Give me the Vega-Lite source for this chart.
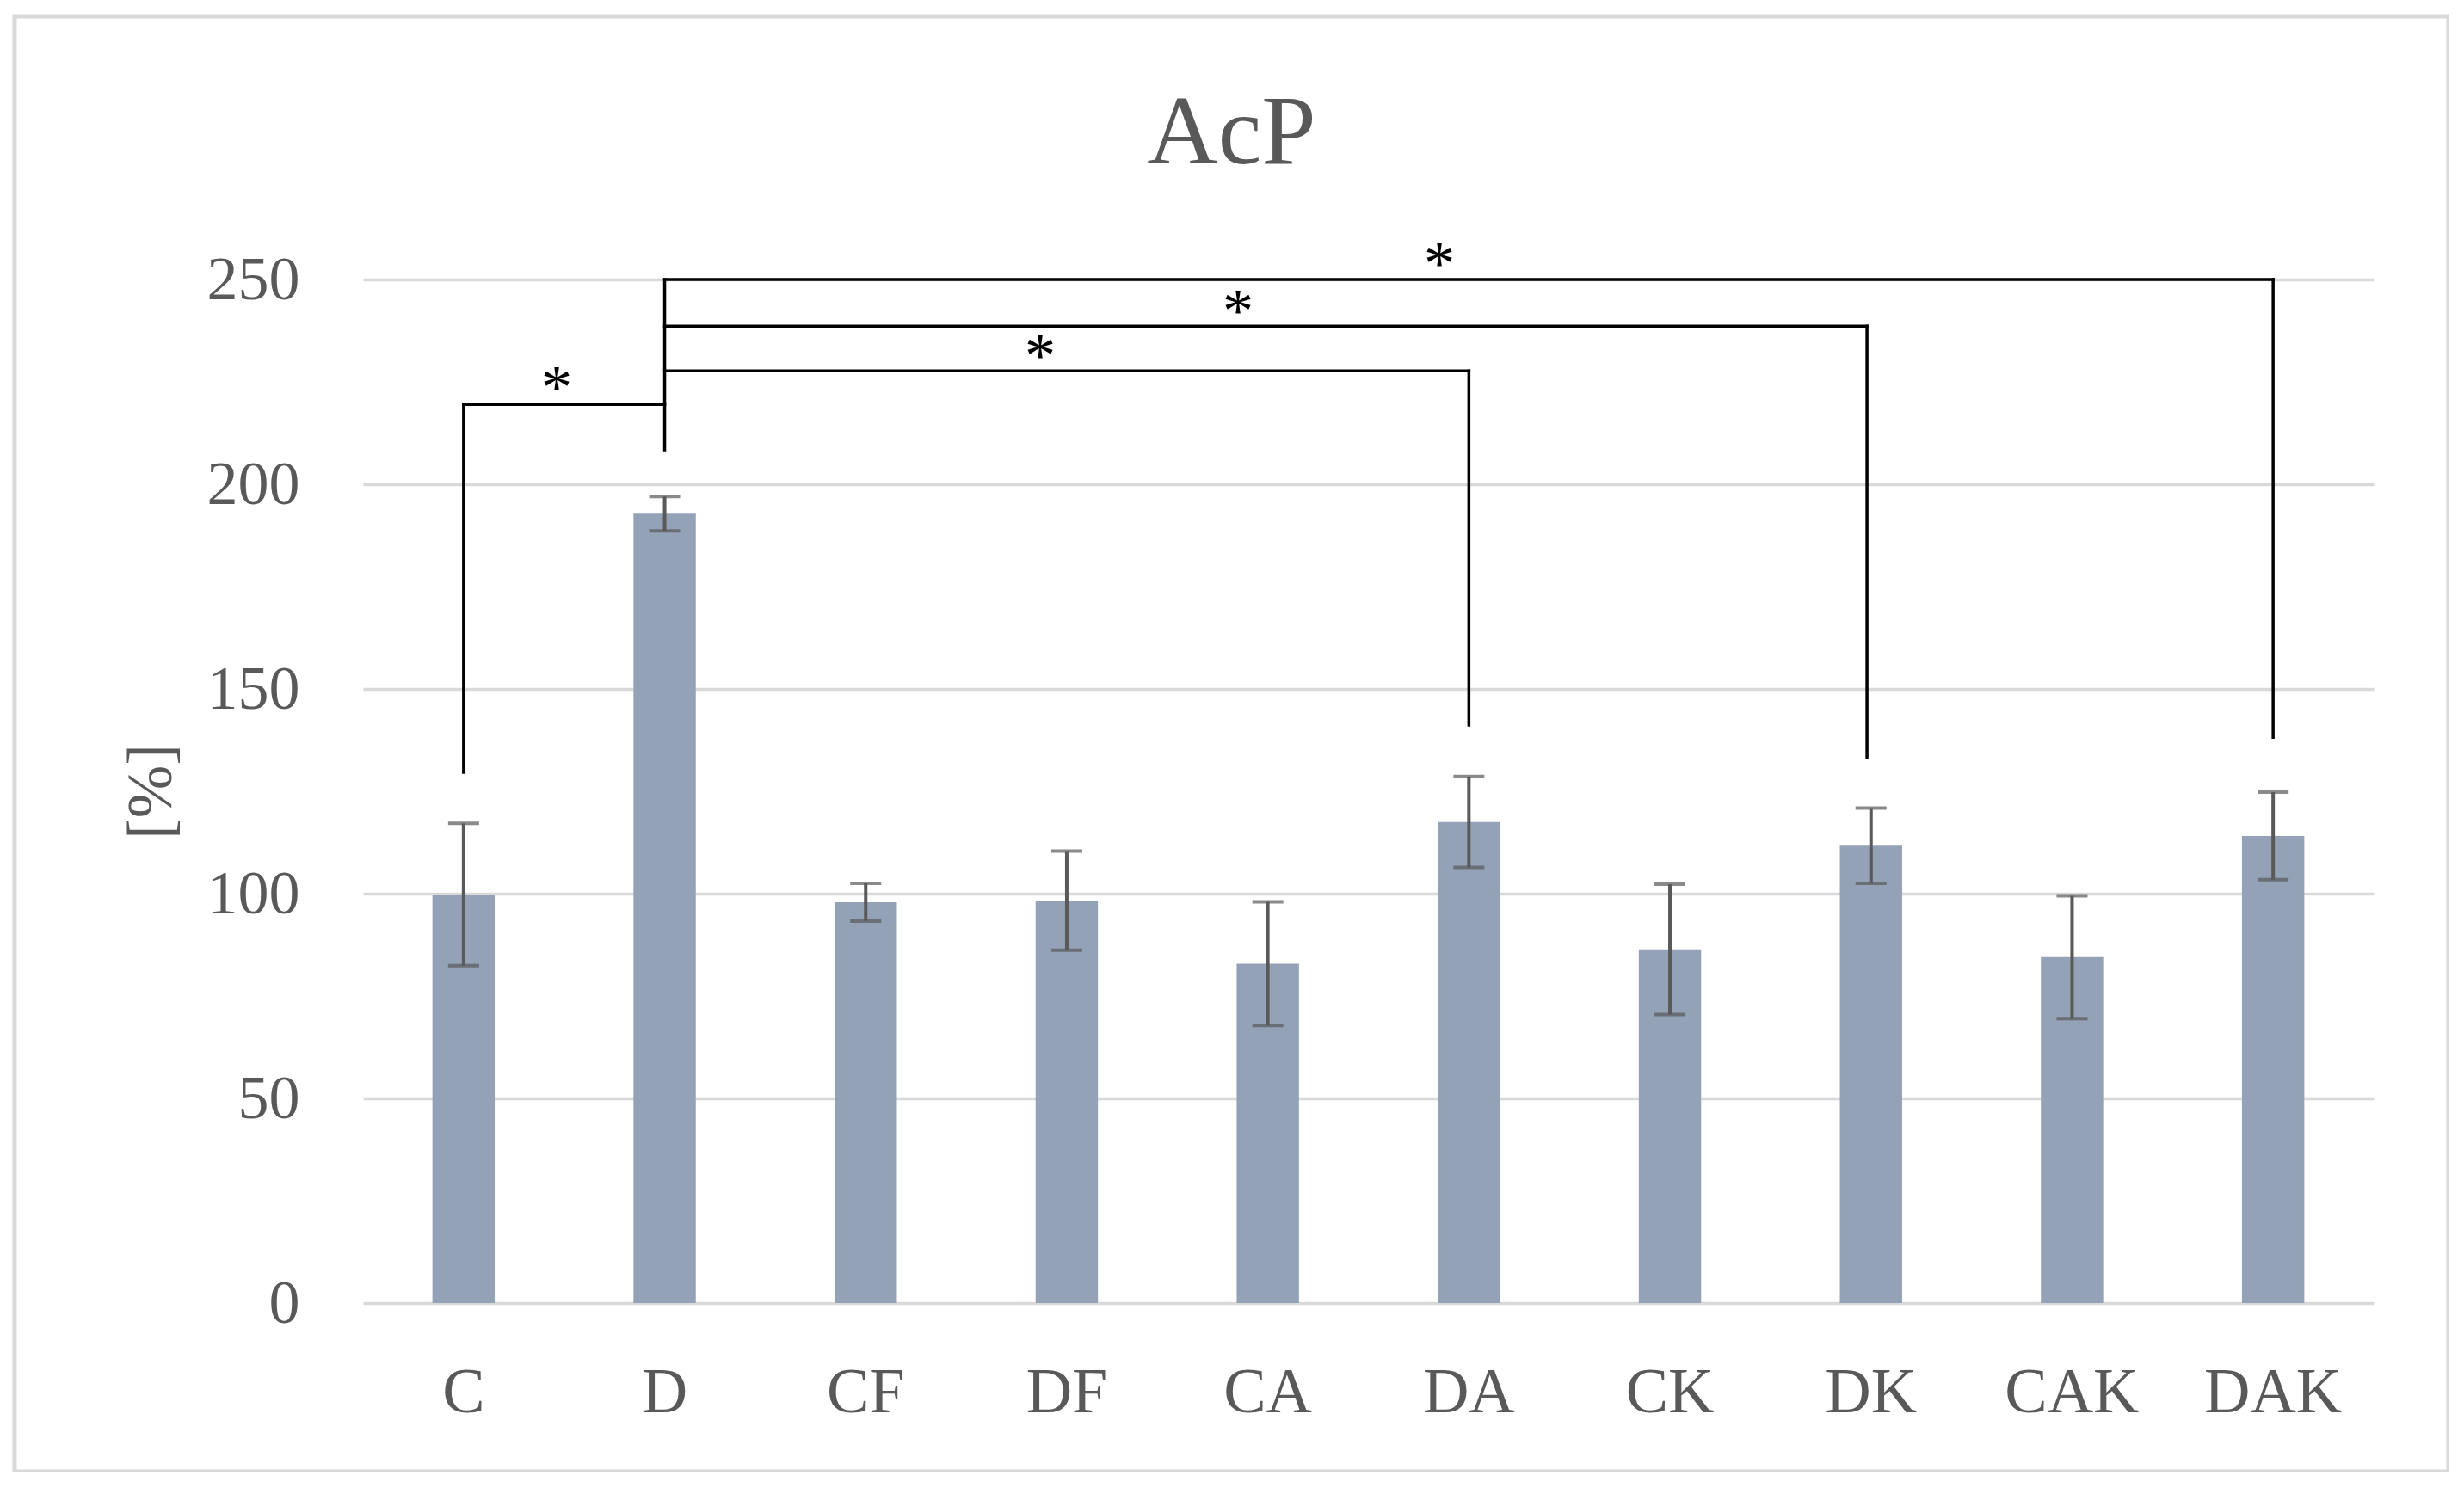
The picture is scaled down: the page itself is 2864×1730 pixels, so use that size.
{
  "$schema": "https://vega.github.io/schema/vega-lite/v6.json",
  "autosize": {"type": "none"},
  "padding": {"left": 17, "top": 19, "right": 0, "bottom": 0},
  "width": 2829,
  "height": 1692,
  "background": "white",
  "title": {
    "text": "AcP",
    "font": "Liberation Serif",
    "fontSize": 114,
    "fontWeight": "normal",
    "color": "#595959",
    "anchor": "middle",
    "baseline": "alphabetic",
    "offset": -285
  },
  "datasets": {
    "groups": [
      {"group": "C", "value": 99.8, "err": 17.4},
      {"group": "D", "value": 192.8, "err": 4.2},
      {"group": "CF", "value": 97.9, "err": 4.6},
      {"group": "DF", "value": 98.3, "err": 12.1},
      {"group": "CA", "value": 82.9, "err": 15.1},
      {"group": "DA", "value": 117.5, "err": 11.1},
      {"group": "CK", "value": 86.4, "err": 15.9},
      {"group": "DK", "value": 111.7, "err": 9.2},
      {"group": "CAK", "value": 84.5, "err": 15.0},
      {"group": "DAK", "value": 114.1, "err": 10.7}
    ],
    "brackets": [
      {"x1": 1, "x2": 1, "y1": 129.6, "y2": 219.5},
      {"x1": 1, "x2": 2, "y1": 219.5, "y2": 219.5},
      {"x1": 2, "x2": 2, "y1": 208.4, "y2": 250},
      {"x1": 2, "x2": 6, "y1": 227.7, "y2": 227.7},
      {"x1": 6, "x2": 6, "y1": 227.7, "y2": 141.2},
      {"x1": 2, "x2": 7.98, "y1": 238.6, "y2": 238.6},
      {"x1": 7.98, "x2": 7.98, "y1": 238.6, "y2": 133.2},
      {"x1": 2, "x2": 10, "y1": 250, "y2": 250},
      {"x1": 10, "x2": 10, "y1": 250, "y2": 138.2}
    ],
    "stars": [
      {"x": 1.463, "y": 218.8, "label": "*"},
      {"x": 3.868, "y": 226.4, "label": "*"},
      {"x": 4.852, "y": 237.3, "label": "*"},
      {"x": 5.853, "y": 248.9, "label": "*"}
    ]
  },
  "layer": [
    {
      "data": {"name": "groups"},
      "layer": [
        {
          "mark": {"type": "bar", "color": "#94A2B8"},
          "encoding": {
            "x": {
              "field": "group",
              "type": "nominal",
              "sort": null,
              "scale": {"range": [405, 2742], "paddingInner": 0.69, "paddingOuter": 0.345},
              "axis": {
                "title": null,
                "labelAngle": 0,
                "labelFont": "Liberation Serif",
                "labelFontSize": 74,
                "labelColor": "#595959",
                "labelBaseline": "top",
                "ticks": false,
                "tickSize": 0,
                "domain": false,
                "grid": false,
                "labelPadding": 0,
                "offset": -128
              }
            },
            "y": {
              "field": "value",
              "type": "quantitative",
              "title": "[%]",
              "scale": {"domain": [0, 250], "range": [1496, 306], "nice": false, "zero": true},
              "axis": {
                "values": [0, 50, 100, 150, 200, 250],
                "grid": true,
                "gridColor": "#d9d9d9",
                "gridWidth": 3.5,
                "domain": false,
                "ticks": false,
                "tickSize": 0,
                "labelPadding": 0,
                "offset": -331,
                "labelFont": "Liberation Serif",
                "labelFontSize": 72,
                "labelColor": "#595959",
                "titleFont": "Liberation Serif",
                "titleFontSize": 74,
                "titleFontWeight": "normal",
                "titleColor": "#595959",
                "titleAngle": 270,
                "titleAlign": "center",
                "titleBaseline": "middle",
                "titleX": -172,
                "titleY": 901
              }
            }
          }
        },
        {
          "mark": {"type": "errorbar", "ticks": true, "color": "#595959", "thickness": 4, "size": 36},
          "encoding": {
            "x": {"field": "group", "type": "nominal", "sort": null},
            "y": {"field": "value", "type": "quantitative", "title": "[%]"},
            "yError": {"field": "err"}
          }
        }
      ]
    },
    {
      "data": {"name": "brackets"},
      "mark": {"type": "rule", "color": "black", "strokeWidth": 3.5, "strokeCap": "square"},
      "encoding": {
        "x": {"field": "x1", "type": "quantitative", "scale": {"domain": [0.5, 10.5], "range": [405, 2742], "nice": false, "zero": false}, "axis": null},
        "x2": {"field": "x2"},
        "y": {"field": "y1", "type": "quantitative", "title": "[%]"},
        "y2": {"field": "y2"}
      }
    },
    {
      "data": {"name": "stars"},
      "mark": {"type": "text", "font": "Liberation Serif", "fontSize": 72, "color": "black", "baseline": "alphabetic", "align": "center"},
      "encoding": {
        "x": {"field": "x", "type": "quantitative", "scale": {"domain": [0.5, 10.5], "range": [405, 2742], "nice": false, "zero": false}, "axis": null},
        "y": {"field": "y", "type": "quantitative", "title": "[%]"},
        "text": {"field": "label"}
      }
    }
  ],
  "resolve": {"scale": {"x": "independent"}, "axis": {"x": "independent"}},
  "config": {
    "font": "Liberation Serif",
    "view": {"stroke": "#d9d9d9", "strokeWidth": 5}
  }
}
